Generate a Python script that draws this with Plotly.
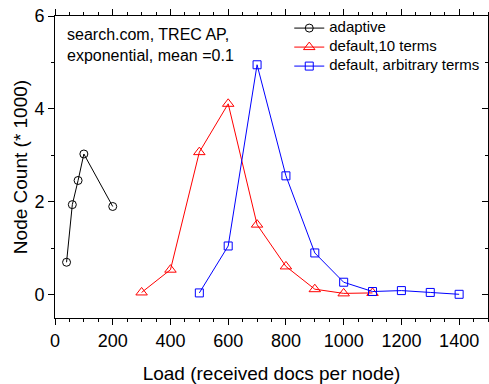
import plotly.graph_objects as go

adaptive_x = [40, 60, 80, 100, 200]
adaptive_y = [0.70, 1.94, 2.46, 3.03, 1.90]

ten_x = [300, 400, 500, 600, 700, 800, 900, 1000, 1100]
ten_y = [0.05, 0.54, 3.07, 4.11, 1.51, 0.61, 0.12, 0.03, 0.04]

arb_x = [500, 600, 700, 800, 900, 1000, 1100, 1200, 1300, 1400]
arb_y = [0.04, 1.05, 4.95, 2.56, 0.90, 0.27, 0.07, 0.09, 0.05, 0.01]

names = ["adaptive", "default,10 terms", "default, arbitrary terms"]

font = "Liberation Sans, Arial, sans-serif"

def lname(s):
    return "<span style='font-size:15px'>" + s + "</span>"

fig = go.Figure()
fig.add_trace(go.Scatter(x=adaptive_x, y=adaptive_y, mode="lines+markers", name=lname(names[0]),
                         line=dict(color="black", width=1),
                         marker=dict(symbol="circle-open", size=8, color="black", line=dict(width=1))))
fig.add_trace(go.Scatter(x=ten_x, y=ten_y, mode="lines+markers", name=lname(names[1]),
                         line=dict(color="#ff0000", width=1),
                         marker=dict(symbol="triangle-up-open", size=10, color="#ff0000", line=dict(width=1))))
fig.add_trace(go.Scatter(x=arb_x, y=arb_y, mode="lines+markers", name=lname(names[2]),
                         line=dict(color="#0000ff", width=1),
                         marker=dict(symbol="square-open", size=8, color="#0000ff", line=dict(width=1))))

fig.update_layout(
    width=489, height=384,
    margin=dict(l=55, r=1, t=16, b=66),
    paper_bgcolor="white", plot_bgcolor="white",
    font=dict(family=font, size=18, color="black"),
    showlegend=True,
    legend=dict(x=0.541, y=1.008, xanchor="left", yanchor="top",
                bgcolor="rgba(0,0,0,0)", font=dict(size=11, family=font),
                tracegroupgap=0, itemwidth=30),
    xaxis=dict(range=[0, 1500], tickvals=[0, 200, 400, 600, 800, 1000, 1200, 1400],
               ticks="outside", ticklen=6, tickwidth=1, tickcolor="black",
               minor=dict(dtick=50, tick0=0, ticks="outside", ticklen=3, tickcolor="black"),
               showline=True, linecolor="black", linewidth=1, mirror="ticks",
               showgrid=False, zeroline=False,
               title=dict(text="Load (received docs per node)", font=dict(size=19), standoff=20),
               tickfont=dict(size=18)),
    yaxis=dict(range=[-0.5, 6], tickvals=[0, 2, 4, 6],
               ticks="outside", ticklen=6, tickwidth=1, tickcolor="black",
               minor=dict(dtick=1, tick0=0, ticks="outside", ticklen=3, tickcolor="black"),
               showline=True, linecolor="black", linewidth=1, mirror=True,
               showgrid=False, zeroline=False,
               title=dict(text="Node Count (* 1000)", font=dict(size=19), standoff=1),
               tickfont=dict(size=18)),
    yaxis2=dict(range=[-0.5, 6], overlaying="y", side="right", tickvals=[0, 2, 4, 6],
                ticks="inside", ticklen=6, tickcolor="black", showticklabels=False,
                minor=dict(dtick=1, tick0=0, ticks="inside", ticklen=3, tickcolor="black"),
                showline=False, showgrid=False, zeroline=False),
)
fig.add_trace(go.Scatter(x=[None], y=[None], yaxis="y2", showlegend=False, hoverinfo="skip"))

fig.add_annotation(x=0.022, y=0.975, xref="paper", yref="paper", xanchor="left", yanchor="top",
                   text="search.com, TREC AP,<br>exponential, mean =0.1", showarrow=False,
                   align="left", font=dict(size=16, family=font, color="black"))

fig.write_html("out.html")
